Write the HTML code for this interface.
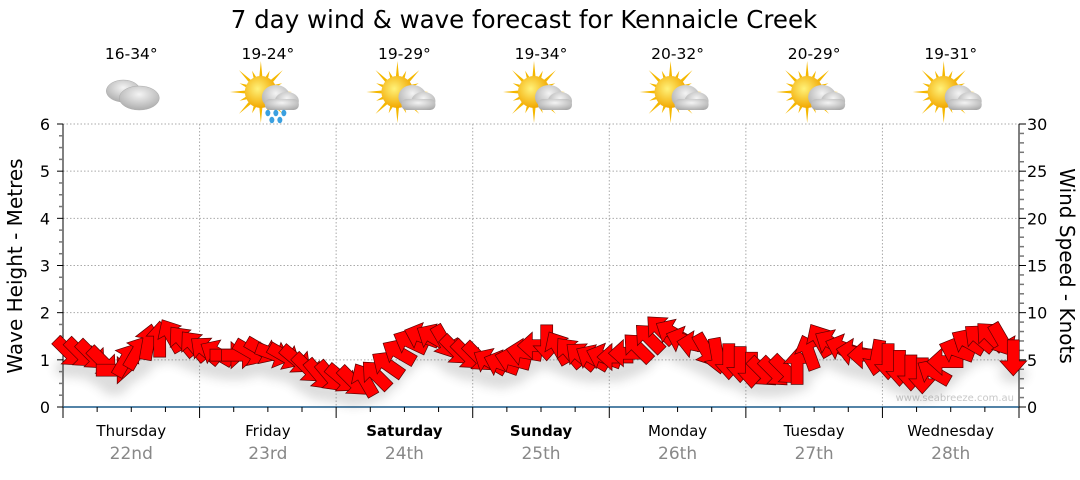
<!DOCTYPE html>
<html><head><meta charset="utf-8"><style>
body{margin:0;background:#fff;width:1080px;height:475px;overflow:hidden;font-family:"Liberation Sans",sans-serif}
svg text{font-family:"DejaVu Sans","Liberation Sans",sans-serif}
</style></head><body>
<svg id="chart" width="1080" height="475" xmlns="http://www.w3.org/2000/svg">
<defs><filter id="sh" x="-20%" y="-20%" width="140%" height="160%"><feGaussianBlur stdDeviation="5"/></filter>
<radialGradient id="cg" cx="50%" cy="35%" r="70%"><stop offset="0" stop-color="#f4f4f4"/><stop offset="1" stop-color="#a8a8a8"/></radialGradient>
<radialGradient id="sg" cx="40%" cy="40%" r="60%"><stop offset="0" stop-color="#fff27a"/><stop offset="1" stop-color="#f2a800"/></radialGradient></defs>
<text x="524" y="28" font-size="24.5" text-anchor="middle" fill="#000">7 day wind &amp; wave forecast for Kennaicle Creek</text>
<g id="grid"></g><g id="axes"></g><g id="icons"></g>
<text transform="translate(22,266) rotate(-90)" font-size="20" text-anchor="middle" fill="#000" font-family="Liberation Sans">Wave Height - Metres</text>
<text transform="translate(1060,266) rotate(90)" font-size="20" text-anchor="middle" fill="#000" font-family="Liberation Sans">Wind Speed - Knots</text>
<text x="1014" y="401" font-size="10" text-anchor="end" fill="#c8c8c8" font-family="Liberation Sans">www.seabreeze.com.au</text>
<g id="shadow" filter="url(#sh)" opacity="0.18"></g>
<g id="arrows"></g>
</svg>
<script>
const days=["Thursday","Friday","Saturday","Sunday","Monday","Tuesday","Wednesday"];
const dates=["22nd","23rd","24th","25th","26th","27th","28th"];
const temps=["16-34°","19-24°","19-29°","19-34°","20-32°","20-29°","19-31°"];
const weekend=[false,false,true,true,false,false,false];
const icons=["cloudy","rain","partly","partly","partly","partly","partly"];
const waveTicks=[0,1,2,3,4,5,6];
const windTicks=[0,5,10,15,20,25,30];
const windSpeed=[
5.8,5.7,5.5,4.8,3.9,5.0,5.8,6.9,7.2,7.6,7.0,6.5,
6.0,5.7,5.5,5.5,5.8,6.0,5.6,5.4,5.0,4.1,3.4,3.2,
3.0,2.7,2.9,3.4,4.5,5.8,6.9,7.5,7.4,6.9,6.0,5.5,
5.3,4.8,4.6,5.0,5.8,6.5,6.8,6.3,5.8,5.4,5.2,5.3,
5.3,5.7,6.3,7.3,8.2,7.9,7.1,6.6,6.0,5.4,4.8,4.5,
3.9,3.7,3.7,3.9,4.3,5.8,7.1,6.8,6.3,5.8,5.5,5.2,
4.8,4.1,3.6,3.3,3.7,4.8,6.0,6.9,7.3,7.5,7.1,5.2];
const windDir=[
45,45,45,45,0,-60,-60,-80,-90,-120,-130,-130,
-140,-150,0,0,30,30,20,30,40,45,50,50,
40,45,-120,-135,-145,-150,-155,-160,-150,60,45,45,
45,-150,-160,-165,-170,180,90,-120,-130,-140,-150,-160,
180,180,-135,-135,-135,-150,-160,-170,60,80,90,90,
90,45,45,45,-90,-110,-120,-150,-160,-170,180,100,
90,90,90,90,-150,180,-160,-150,-140,-135,60,90];

const NS="http://www.w3.org/2000/svg";
const X0=63,X1=1019,Y0=407,Y1=124;
const dayW=(X1-X0)/7;
const xT=h=>X0+h/168*(X1-X0);
const yWave=m=>Y0-m/6*(Y0-Y1);
const yWind=k=>Y0-k/30*(Y0-Y1);
function mk(tag,attrs,parent){const e=document.createElementNS(NS,tag);for(const k in attrs)e.setAttribute(k,attrs[k]);parent.appendChild(e);return e;}
const grid=document.getElementById('grid'),axes=document.getElementById('axes'),ic=document.getElementById('icons');
waveTicks.forEach(v=>{if(v>0){const l=mk('line',{x1:X0,x2:X1,y1:yWave(v),y2:yWave(v),stroke:'#aaa','stroke-dasharray':'1.5,2'},grid);

}});
for(let d=1;d<7;d++){const l=mk('line',{x1:X0+d*dayW,x2:X0+d*dayW,y1:Y1,y2:Y0,stroke:'#aaa','stroke-dasharray':'1.5,2'},grid);

}
mk('line',{x1:X0,x2:X0,y1:Y1,y2:418,stroke:'#000'},axes);
for(let i=0;i<=24;i++){const y=Y0-i*(Y0-Y1)/24;mk('line',{x1:i%4?59:57,x2:X0,y1:y,y2:y,stroke:i%4?'#777':'#000','stroke-width':i%4?1.5:1},axes);}
waveTicks.forEach(v=>{const t=mk('text',{x:50,y:yWave(v)+6,'font-size':16,'text-anchor':'end',fill:'#000'},axes);t.textContent=v;

});
mk('line',{x1:X1,x2:X1,y1:Y1,y2:Y0,stroke:'#000'},axes);
for(let i=0;i<=30;i++){const y=yWind(i);mk('line',{x1:X1,x2:i%5?1024:1026,y1:y,y2:y,stroke:i%5?'#777':'#000','stroke-width':i%5?1.5:1},axes);}
windTicks.forEach(v=>{const t=mk('text',{x:1027,y:yWind(v)+6,'font-size':16,fill:'#000'},axes);t.textContent=v;

});
mk('line',{x1:X0,x2:X1,y1:Y0,y2:Y0,stroke:'#1a5a8a','stroke-width':1.5},axes);
for(let h=0;h<=168;h+=6){const x=xT(h);mk('line',{x1:x,x2:x,y1:Y0,y2:h%24?412:418,stroke:'#000'},axes);}
days.forEach((d,i)=>{const cx=X0+(i+0.5)*dayW;
const t=mk('text',{x:cx,y:436,'font-size':15,'text-anchor':'middle',fill:'#000','font-weight':weekend[i]?'bold':'normal'},axes);t.textContent=d;


const t2=mk('text',{x:cx,y:459,'font-size':17,'text-anchor':'middle',fill:'#888'},axes);t2.textContent=dates[i];


const t3=mk('text',{x:cx,y:59,'font-size':15.5,'text-anchor':'middle',fill:'#000'},ic);t3.textContent=temps[i];


const g=mk('g',{transform:`translate(${cx},95)`},ic);


if(icons[i]==='cloudy'){
 mk('ellipse',{cx:-8,cy:-4,rx:17,ry:11,fill:'url(#cg)',stroke:'#aaa','stroke-width':0.5},g);
 mk('ellipse',{cx:8,cy:3,rx:20,ry:12,fill:'url(#cg)',stroke:'#aaa','stroke-width':0.5},g);
}else{
 const sx=-7,sy=-3;
 for(let a=0;a<360;a+=22.5){const r=(a)*Math.PI/180,L=(a/22.5)%2?23:31;mk('polygon',{points:`${sx+Math.cos(r-0.12)*14},${sy+Math.sin(r-0.12)*14} ${sx+Math.cos(r)*L},${sy+Math.sin(r)*L} ${sx+Math.cos(r+0.12)*14},${sy+Math.sin(r+0.12)*14}`,fill:'#f5b800'},g);}
 mk('circle',{cx:sx,cy:sy,r:16,fill:'url(#sg)'},g);
 mk('ellipse',{cx:8,cy:2,rx:14,ry:12,fill:'url(#cg)'},g);
 mk('ellipse',{cx:19,cy:6,rx:12,ry:9,fill:'url(#cg)'},g);
 mk('rect',{x:-3,y:4,width:34,height:11,rx:5,fill:'url(#cg)'},g);
 if(icons[i]==='rain'){[[0,18],[8,18],[16,18],[4,25],[12,25]].forEach(p=>mk('ellipse',{cx:p[0],cy:p[1],rx:2.5,ry:3.2,fill:'#3aa0e0'},g));}
}});
const arrG=document.getElementById('arrows'),shG=document.getElementById('shadow');
const shape="-18,-6 3,-6 3,-13.5 18,0 3,13.5 3,6 -18,6";
windSpeed.forEach((k,i)=>{const x=xT(i*2+1),y=yWind(k);
mk('ellipse',{cx:x,cy:y+16,rx:14,ry:9,fill:'#444'},shG);
const p=mk('polygon',{points:shape,transform:`translate(${x.toFixed(1)},${y.toFixed(1)}) rotate(${windDir[i]})`,fill:'#ff0000',stroke:'#5a0000','stroke-width':0.7},arrG);

});
</script>
</body></html>
